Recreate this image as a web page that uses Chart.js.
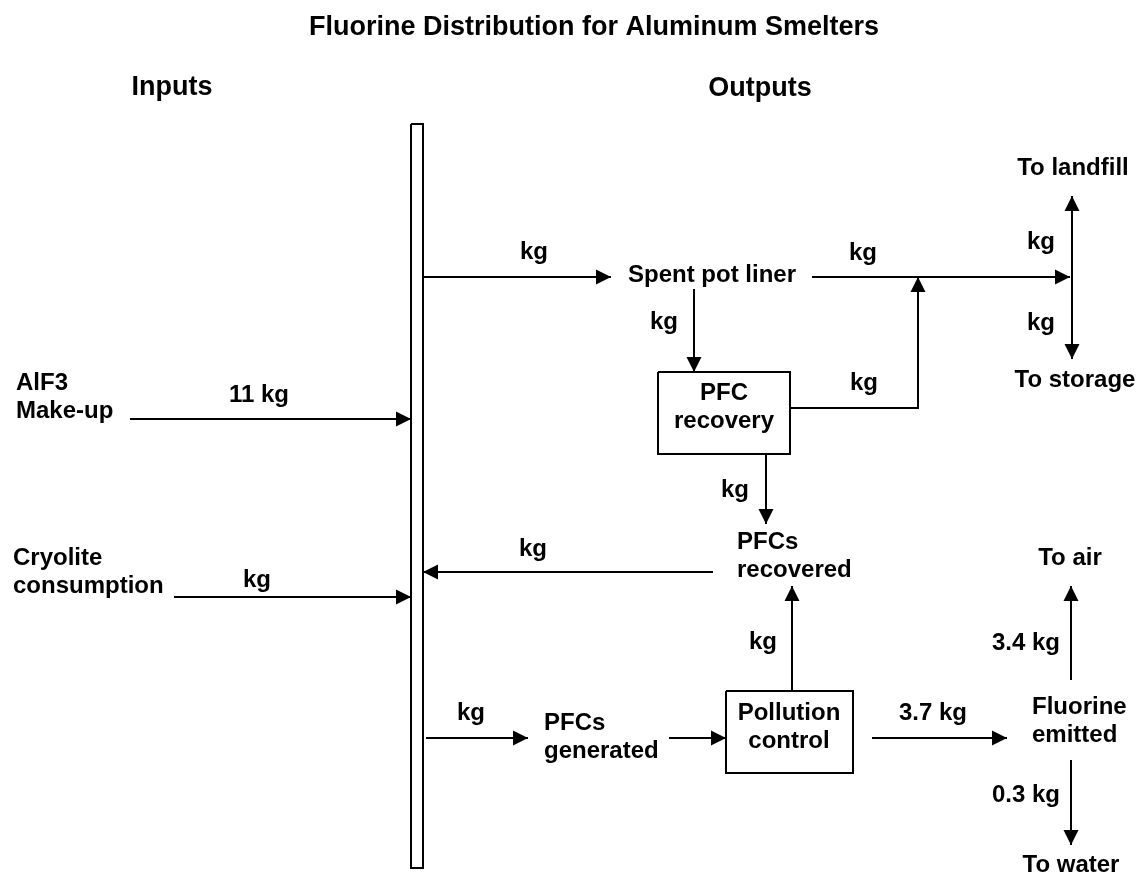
<!DOCTYPE html>
<html lang="en">
<head>
    <meta charset="UTF-8">
    <title>Fluorine Distribution for Aluminum Smelters</title>
    <script src="https://cdn.jsdelivr.net/npm/chart.js"></script>
    <style>
        body {
            margin: 0;
            background: #fff;
            font-family: "Liberation Sans", Arial, sans-serif;
        }
    </style>
</head>
<body>
    <canvas id="flowChart" width="1144" height="875"></canvas>
    <script>
        // Flow amounts (kg), null where the source leaves the amount blank
        const flowNames = [
            'AlF3 make-up', 'Cryolite consumption', 'To spent pot liner',
            'Liner to PFC recovery', 'Liner to disposal', 'PFC recovery to disposal',
            'To landfill', 'To storage', 'PFC recovery to PFCs recovered',
            'PFCs recovered to pot', 'PFCs generated', 'PFCs to pollution control',
            'Pollution control to PFCs recovered', 'Fluorine emitted', 'To air', 'To water'
        ];
        const flowAmounts = [11, null, null, null, null, null, null, null, null, null, null, undefined, null, 3.7, 3.4, 0.3];

        // Process nodes (text lines)
        const nodeLabels = [
            ['AlF3', 'Make-up'], ['Cryolite', 'consumption'], ['Spent pot liner'],
            ['PFC', 'recovery'], ['PFCs', 'recovered'], ['PFCs', 'generated'],
            ['Pollution', 'control'], ['Fluorine', 'emitted'],
            ['To landfill'], ['To storage'], ['To air'], ['To water']
        ];
        const headings = ['Fluorine Distribution for Aluminum Smelters', 'Inputs', 'Outputs'];

        // Layout, in diagram units (x: 0..1144, y: 0..875 top-down)
        const flowPaths = [
            [[130, 419], [411, 419]],
            [[174, 597], [411, 597]],
            [[423, 277], [611, 277]],
            [[694, 289], [694, 372]],
            [[812, 277], [1070, 277]],
            [[790, 408], [918, 408], [918, 277]],
            [[1072, 277], [1072, 196]],
            [[1072, 277], [1072, 359]],
            [[766, 454], [766, 524]],
            [[713, 572], [423, 572]],
            [[426, 738], [528, 738]],
            [[669, 738], [726, 738]],
            [[792, 691], [792, 586]],
            [[872, 738], [1007, 738]],
            [[1071, 680], [1071, 586]],
            [[1071, 760], [1071, 845]]
        ];
        const flowLabelPos = [
            [259, 395], [257, 580], [534, 252], [664, 322], [863, 253], [864, 383],
            [1041, 242], [1041, 323], [735, 490], [533, 549], [471, 713], null,
            [763, 642], [933, 713], [1026, 643], [1026, 795]
        ];
        const nodePos = [
            [16, 383, 'left'], [13, 558, 'left'], [712, 275, 'center'],
            [724, 393, 'center'], [737, 542, 'left'], [544, 723, 'left'],
            [789, 713, 'center'], [1032, 707, 'left'],
            [1073, 168, 'center'], [1075, 380, 'center'], [1070, 558, 'center'], [1071, 865, 'center']
        ];
        const headingPos = [[594, 28, 27], [172, 88, 27], [760, 89, 27]];
        const boxes = [
            [411, 124, 423, 868],  // pot (collector bar)
            [658, 372, 790, 454],  // PFC recovery
            [726, 691, 853, 773]   // pollution control
        ];

        const FONT = 'Arial, "Liberation Sans", Helvetica, sans-serif';

        const datasets = [];
        boxes.forEach(function(b) {
            datasets.push({
                data: [{x: b[0], y: b[1]}, {x: b[2], y: b[1]}, {x: b[2], y: b[3]}, {x: b[0], y: b[3]}, {x: b[0], y: b[1]}],
                showLine: true, borderColor: '#000', borderWidth: 2, pointRadius: 0, fill: false
            });
        });
        flowPaths.forEach(function(p, i) {
            datasets.push({
                label: flowNames[i],
                data: p.map(function(pt) { return {x: pt[0], y: pt[1]}; }),
                showLine: true, borderColor: '#000', borderWidth: 2, pointRadius: 0, fill: false,
                arrow: true
            });
        });

        function flowText(i) {
            const v = flowAmounts[i];
            if (v === undefined) return '';
            return v === null ? 'kg' : v + ' kg';
        }

        const diagramPlugin = {
            id: 'diagram',
            afterDatasetsDraw: function(chart) {
                const ctx = chart.ctx;
                const xs = chart.scales.x, ys = chart.scales.y;
                const px = function(v) { return xs.getPixelForValue(v); };
                const py = function(v) { return ys.getPixelForValue(v); };
                ctx.save();
                // arrow heads
                ctx.fillStyle = '#000';
                chart.data.datasets.forEach(function(ds) {
                    if (!ds.arrow) return;
                    const n = ds.data.length;
                    const a = ds.data[n - 2], b = ds.data[n - 1];
                    const x1 = px(a.x), y1 = py(a.y), x2 = px(b.x), y2 = py(b.y);
                    const ang = Math.atan2(y2 - y1, x2 - x1);
                    const len = 15, half = 7.5;
                    ctx.beginPath();
                    ctx.moveTo(x2, y2);
                    ctx.lineTo(x2 - len * Math.cos(ang) - half * Math.sin(ang), y2 - len * Math.sin(ang) + half * Math.cos(ang));
                    ctx.lineTo(x2 - len * Math.cos(ang) + half * Math.sin(ang), y2 - len * Math.sin(ang) - half * Math.cos(ang));
                    ctx.closePath();
                    ctx.fill();
                });
                ctx.textBaseline = 'middle';
                // headings
                headings.forEach(function(t, i) {
                    const h = headingPos[i];
                    ctx.font = 'bold ' + h[2] + 'px ' + FONT;
                    ctx.textAlign = 'center';
                    ctx.fillText(t, px(h[0]), py(h[1]));
                });
                // flow amounts
                ctx.font = 'bold 24px ' + FONT;
                ctx.textAlign = 'center';
                flowLabelPos.forEach(function(p, i) {
                    if (!p) return;
                    ctx.fillText(flowText(i), px(p[0]), py(p[1]));
                });
                // nodes
                nodeLabels.forEach(function(lines, i) {
                    const p = nodePos[i];
                    ctx.textAlign = p[2];
                    lines.forEach(function(line, j) {
                        ctx.fillText(line, px(p[0]), py(p[1] + j * 28));
                    });
                });
                ctx.restore();
            }
        };

        function draw() {
            new Chart(document.getElementById('flowChart'), {
                type: 'scatter',
                data: { datasets: datasets },
                plugins: [diagramPlugin],
                options: {
                    responsive: false,
                    animation: false,
                    devicePixelRatio: 1,
                    layout: { padding: 0 },
                    plugins: {
                        legend: { display: false },
                        tooltip: { enabled: false }
                    },
                    scales: {
                        x: { type: 'linear', min: 0, max: 1144, display: false },
                        y: { type: 'linear', min: 0, max: 875, reverse: true, display: false }
                    }
                }
            });
        }

        // make sure the bold face is ready before drawing on the canvas
        if (document.fonts && document.fonts.load) {
            Promise.all([
                document.fonts.load('bold 24px Arial'),
                document.fonts.load('bold 24px "Liberation Sans"')
            ]).then(draw, draw);
        } else {
            draw();
        }
    </script>
</body>
</html>
